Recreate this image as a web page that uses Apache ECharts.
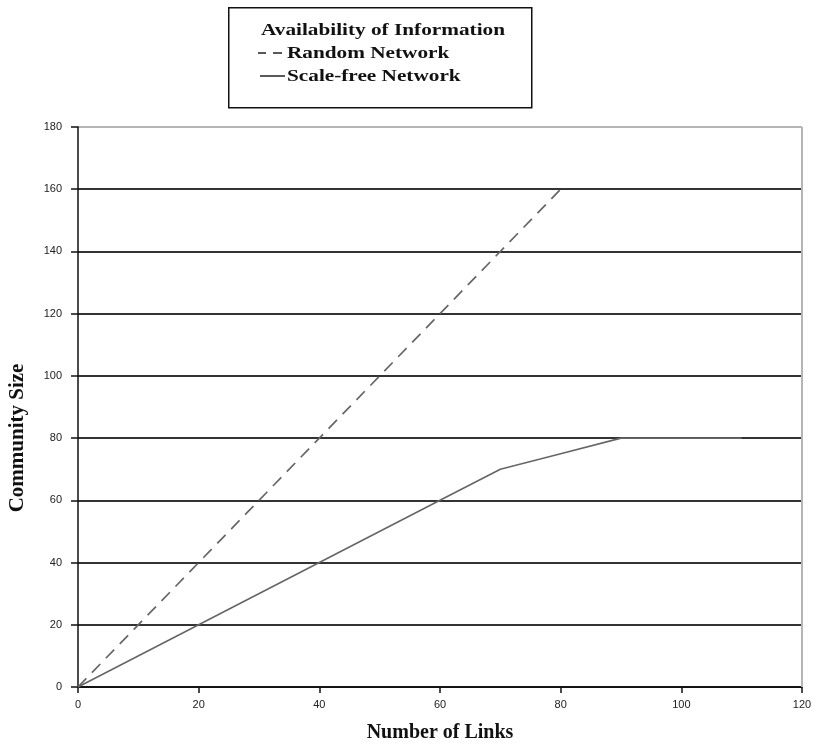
<!DOCTYPE html>
<html>
<head>
<meta charset="utf-8">
<script src="https://cdn.jsdelivr.net/npm/echarts@6/dist/echarts.min.js"></script>
<style>
html,body{margin:0;padding:0;background:#fff;}
#chart{width:821px;height:751px;}
</style>
</head>
<body>
<div id="chart"></div>
<script>
const randomLinks = [0, 20, 40, 60, 80];
const randomSize = [0, 40, 80, 120, 160];
const scaleFreeLinks = [0, 20, 40, 60, 70, 80, 90, 100, 110];
const scaleFreeSize = [0, 20, 40, 60, 70, 75, 80, 80, 80];
const legendTitle = 'Availability of Information';
const seriesNames = ['Random Network', 'Scale-free Network'];
const xTitle = 'Number of Links';
const yTitle = 'Community Size';

const serif = '"Liberation Serif", "Times New Roman", "DejaVu Serif", serif';
const narrow = '"Liberation Sans Narrow", "Arial Narrow", "Liberation Sans", sans-serif';
const lineColor = '#666';

const chart = echarts.init(document.getElementById('chart'));
const gridColors = ['#222','#333','#333','#333','#333','#333','#333','#333','#333','#b5b5b5'];

chart.setOption({
  animation: false,
  backgroundColor: '#fff',
  grid: { left: 78, right: 19, top: 127, bottom: 64 },
  graphic: [
    { type: 'rect', left: 228, top: 7, shape: { width: 303, height: 100 },
      style: { fill: '#fff', stroke: '#111', lineWidth: 1.5 }, z: 0 },
    { type: 'line', shape: { x1: 802, y1: 127, x2: 802, y2: 687 },
      style: { stroke: '#b5b5b5', lineWidth: 2 }, z: 1 },
    { type: 'text', x: 261, y: 31, scaleX: 1.25,
      style: { text: legendTitle, font: 'bold 17px ' + serif, fill: '#111', verticalAlign: 'middle' }, z: 5 },
    { type: 'line', shape: { x1: 258, y1: 53, x2: 266, y2: 53 },
      style: { stroke: '#222', lineWidth: 1.5 }, z: 5 },
    { type: 'line', shape: { x1: 273, y1: 53, x2: 282, y2: 53 },
      style: { stroke: '#222', lineWidth: 1.5 }, z: 5 },
    { type: 'text', x: 287, y: 54, scaleX: 1.25,
      style: { text: seriesNames[0], font: 'bold 17px ' + serif, fill: '#111', verticalAlign: 'middle' }, z: 5 },
    { type: 'line', shape: { x1: 260, y1: 76, x2: 285, y2: 76 },
      style: { stroke: '#222', lineWidth: 1.5 }, z: 5 },
    { type: 'text', x: 287, y: 77, scaleX: 1.25,
      style: { text: seriesNames[1], font: 'bold 17px ' + serif, fill: '#111', verticalAlign: 'middle' }, z: 5 },
    { type: 'text', x: 18, y: 438, rotation: Math.PI / 2,
      style: { text: yTitle, font: 'bold 21px ' + serif, fill: '#111', align: 'center', verticalAlign: 'middle' }, z: 5 }
  ],
  xAxis: {
    type: 'value', min: 0, max: 120, interval: 20,
    name: xTitle, nameLocation: 'middle', nameGap: 36,
    nameTextStyle: { fontFamily: serif, fontWeight: 'bold', fontSize: 20, color: '#111' },
    axisLine: { show: true, onZero: false, lineStyle: { color: '#111', width: 1.5 } },
    axisTick: { show: true, length: 6, lineStyle: { color: '#111', width: 1.5 } },
    axisLabel: { margin: 12, fontFamily: narrow, fontSize: 11, color: '#222' },
    splitLine: { show: false }
  },
  yAxis: {
    type: 'value', min: 0, max: 180, interval: 20,
    axisLine: { show: true, onZero: false, lineStyle: { color: '#111', width: 1.5 } },
    axisTick: { show: true, length: 7, lineStyle: { color: '#111', width: 1.5 } },
    axisLabel: { margin: 16, fontFamily: narrow, fontSize: 11, color: '#222' },
    splitLine: { show: true, lineStyle: { color: gridColors, width: 2 } }
  },
  series: [
    {
      name: seriesNames[0], type: 'line', symbol: 'none',
      data: randomLinks.map((x, i) => [x, randomSize[i]]),
      lineStyle: { color: lineColor, width: 1.7, type: [12, 8] },
      itemStyle: { color: lineColor }, z: 3
    },
    {
      name: seriesNames[1], type: 'line', symbol: 'none',
      data: scaleFreeLinks.map((x, i) => [x, scaleFreeSize[i]]),
      lineStyle: { color: lineColor, width: 1.6 },
      itemStyle: { color: lineColor }, z: 3
    }
  ]
});
</script>
</body>
</html>
